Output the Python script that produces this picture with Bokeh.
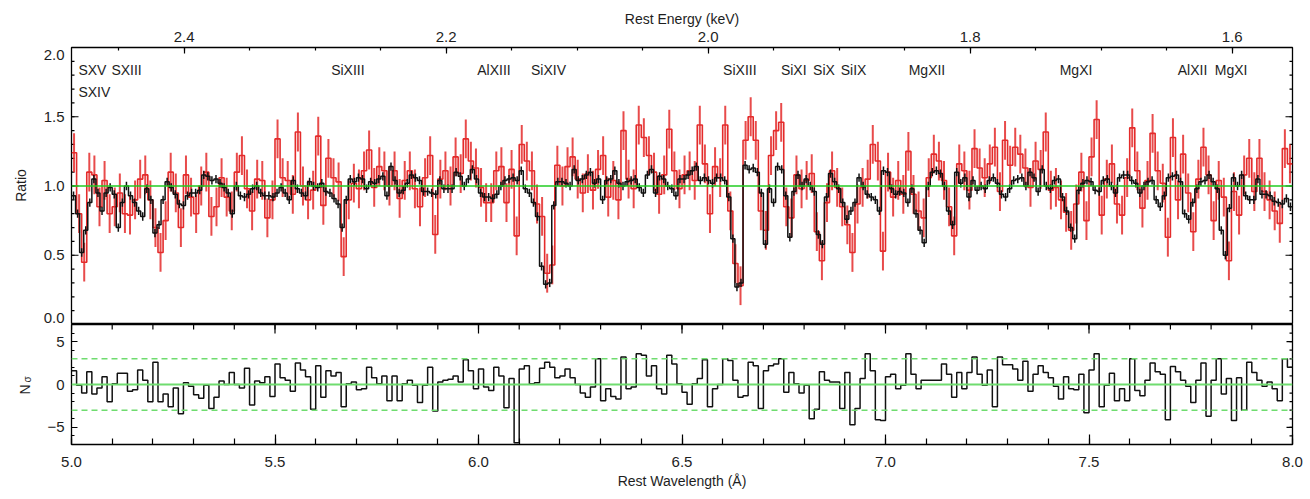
import math
import numpy as np
from bokeh.plotting import figure
from bokeh.models import (Range1d, LinearAxis, FixedTicker, PrintfTickFormatter,
                          CustomJSTickFormatter, Span)
from bokeh.layouts import column, row
from bokeh.embed import file_html
from bokeh.resources import INLINE
from bokeh.core.properties import value

FONT = "Liberation Sans"
TXT = "#1e1e1e"

# ---------------- data ----------------
WAVE_MIN, WAVE_MAX = 5.0, 8.0
ENERGY_LEFT, ENERGY_RIGHT = 2.486, 1.554   # top axis span in keV

# fine-binned ratio (black), 0.01 A bins starting at 5.0 A
black_width = 0.01
black_ratio = [
    0.93, 0.80, 0.52, 0.68, 0.88, 1.05, 0.95, 0.82, 0.95, 0.99,
    0.94, 0.70, 0.88, 1.00, 0.93, 0.88, 0.82, 0.78, 0.98, 0.90,
    0.66, 0.72, 0.90, 1.03, 0.99, 0.94, 0.87, 0.86, 0.93, 0.95,
    0.95, 0.97, 1.08, 1.07, 1.04, 1.05, 1.02, 0.99, 0.95, 0.80,
    1.00, 0.93, 0.92, 0.94, 0.98, 1.00, 0.95, 0.93, 0.93, 0.92,
    0.95, 0.99, 0.95, 0.90, 1.04, 0.98, 0.95, 0.93, 1.03, 1.00,
    0.99, 1.02, 0.96, 0.95, 0.91, 0.87, 0.70, 0.90, 1.05, 1.03,
    1.06, 1.05, 0.98, 1.03, 1.02, 1.05, 1.07, 0.93, 1.14, 1.04,
    0.95, 0.97, 1.02, 1.08, 1.06, 1.04, 0.96, 0.96, 0.95, 0.94,
    1.04, 0.98, 0.98, 0.98, 1.10, 1.07, 1.00, 1.05, 1.12, 1.05,
    0.95, 0.92, 0.92, 0.91, 0.94, 1.00, 1.04, 1.05, 1.06, 1.04,
    1.11, 0.98, 0.95, 0.88, 0.78, 0.42, 0.29, 0.30, 0.86, 1.03,
    1.03, 1.02, 1.00, 1.12, 1.04, 1.05, 1.08, 1.10, 1.02, 1.05,
    0.90, 1.04, 1.05, 1.11, 1.02, 1.00, 1.03, 1.04, 1.05, 0.99,
    0.95, 1.08, 1.12, 0.95, 1.07, 1.05, 1.00, 0.98, 0.93, 1.05,
    1.05, 1.08, 1.11, 1.14, 1.04, 1.06, 1.04, 1.02, 1.06, 1.06,
    1.04, 0.92, 0.62, 0.27, 0.30, 1.15, 1.12, 1.13, 1.10, 0.95,
    0.58, 0.98, 0.88, 1.14, 1.12, 0.93, 0.63, 0.96, 1.08, 1.00,
    1.05, 1.00, 0.96, 0.65, 0.58, 0.92, 1.09, 1.03, 0.98, 0.88,
    0.76, 0.82, 0.88, 1.06, 1.00, 0.94, 0.92, 0.90, 0.82, 1.11,
    1.10, 0.98, 0.94, 0.96, 0.95, 0.88, 0.98, 0.80, 0.68, 0.59,
    1.00, 1.10, 1.11, 1.09, 1.00, 0.82, 0.72, 1.10, 1.02, 1.06,
    0.92, 1.04, 0.97, 1.00, 0.98, 1.04, 1.06, 1.02, 0.94, 0.92,
    0.98, 1.04, 1.05, 1.06, 1.00, 1.10, 1.06, 0.96, 1.12, 1.00,
    0.98, 1.04, 1.05, 0.92, 0.82, 0.70, 0.62, 0.97, 1.02, 1.04,
    1.03, 0.97, 0.96, 1.04, 1.05, 1.00, 0.95, 1.06, 1.08, 1.08,
    1.04, 1.02, 0.95, 1.00, 1.03, 1.04, 0.90, 0.85, 0.93, 1.06,
    1.07, 1.08, 1.03, 0.80, 0.76, 0.88, 0.98, 1.03, 1.04, 1.08,
    1.03, 0.98, 0.68, 0.50, 0.84, 1.06, 1.00, 1.08, 0.93, 0.90,
    0.90, 1.05, 0.94, 0.94, 0.93, 0.89, 0.88, 0.87, 0.91, 0.85,
]
black_err = 0.03

# coarse-binned ratio (red), 0.0125 A bins starting at 5.0 A
red_width = 0.0125
red_ratio = [
    1.24, 0.80, 0.45, 1.10, 1.08, 0.85, 1.04, 0.80, 0.85, 0.95,
    0.80, 0.79, 0.90, 1.05, 1.08, 0.90, 0.70, 0.52, 0.75, 1.10,
    0.95, 0.70, 1.08, 0.92, 0.80, 1.00, 1.10, 0.78, 0.85, 1.06,
    0.92, 0.82, 1.10, 1.22, 0.98, 0.82, 1.05, 1.04, 0.77, 0.90,
    1.34, 1.06, 1.04, 0.94, 1.39, 1.00, 0.90, 0.97, 1.36, 0.86,
    1.20, 1.06, 1.03, 0.49, 0.90, 1.02, 0.98, 1.11, 1.26, 0.99,
    1.14, 1.11, 1.00, 1.11, 0.91, 1.04, 1.11, 0.98, 0.85, 1.06,
    1.22, 0.65, 1.05, 1.11, 1.00, 1.21, 1.09, 1.34, 1.18, 1.13,
    0.99, 0.88, 0.88, 1.11, 1.14, 0.88, 1.12, 0.64, 1.30, 1.18,
    1.11, 0.87, 0.78, 0.37, 0.43, 1.15, 1.00, 1.14, 1.21, 1.05,
    0.95, 1.09, 0.97, 1.12, 1.22, 0.92, 1.04, 0.90, 1.40, 1.05,
    0.98, 1.44, 1.35, 1.22, 1.10, 0.94, 1.08, 1.41, 1.11, 0.98,
    1.08, 1.11, 1.04, 1.44, 1.16, 0.80, 1.14, 1.06, 1.44, 0.82,
    0.44, 0.28, 1.33, 1.50, 1.33, 0.82, 0.68, 1.22, 1.40, 1.46,
    0.85, 0.77, 1.08, 0.98, 1.04, 1.09, 0.67, 0.46, 0.88, 1.11,
    0.99, 0.85, 0.72, 0.52, 0.87, 0.99, 1.05, 1.30, 1.18, 0.53,
    1.10, 0.92, 1.04, 0.94, 1.25, 0.94, 0.82, 0.77, 1.06, 1.23,
    1.18, 1.04, 0.85, 0.64, 1.16, 1.11, 0.97, 1.27, 1.13, 1.06,
    1.16, 1.28, 0.96, 1.33, 1.15, 1.28, 1.23, 1.13, 0.99, 1.18,
    1.12, 1.39, 0.97, 0.99, 0.90, 0.81, 0.68, 0.87, 1.10, 0.75,
    1.21, 1.48, 0.79, 1.05, 1.16, 0.87, 0.79, 1.06, 1.42, 1.11,
    0.84, 1.04, 1.38, 1.11, 1.02, 0.63, 1.35, 0.90, 1.23, 0.95,
    0.67, 1.05, 1.28, 1.08, 0.75, 1.04, 0.92, 0.46, 0.96, 0.79,
    1.08, 1.20, 0.96, 1.20, 0.96, 0.90, 0.82, 0.73, 1.27, 1.16,
]
red_err = 0.14

# residuals in units of sigma, 0.0125 A bins starting at 5.0 A
resid_width = 0.0125
resid_sigma = [
    1.6, -0.1, -1.0, 1.5, -1.1, -0.4, 0.9, -2.0, 0.1, 1.3,
    1.3, -0.8, -0.6, 1.7, 0.5, -2.0, 2.6, -2.0, -1.1, -2.6,
    -0.4, -3.4, 0.2, -0.2, -1.2, -1.6, -0.1, -2.8, -1.5, 0.4,
    0.0, 1.4, 0.0, -0.4, 1.9, -2.4, 0.4, 0.2, 0.9, -1.4,
    2.4, 0.8, 0.5, -0.8, 2.5, 1.7, 0.9, -2.9, 2.2, -1.5,
    1.6, 1.0, 1.4, -2.6, 0.1, 0.3, -0.6, -0.5, 2.0, 0.8,
    0.1, 1.0, -1.9, 1.0, -1.9, 0.1, 0.5, -0.1, -2.1, -0.1,
    2.0, -3.1, 0.3, 0.5, 0.6, 1.0, 0.3, 2.9, 1.6, -0.5,
    1.8, -0.3, -0.7, 2.0, 1.0, -2.7, 0.7, -6.8, 1.8, 2.2,
    0.1, 0.2, 1.9, 2.6, 2.0, 0.8, 1.0, 1.8, 0.8, 0.0,
    -1.0, -1.5, -0.3, 3.0, -1.9, -0.5, -1.4, -1.7, 3.2, -0.5,
    -0.3, 3.6, 3.4, 1.0, 2.2, -0.5, -1.1, 3.4, 2.4, 0.1,
    -0.9, -2.3, 0.1, 0.7, 2.9, -2.6, -0.5, 0.0, 3.0, 2.8,
    0.5, -1.5, -1.3, 2.6, 2.2, -2.8, 1.6, 2.2, 2.4, 3.0,
    -0.9, 1.4, 0.1, -1.0, -0.1, -4.0, -2.9, 1.5, 0.5, 0.3,
    0.3, -2.8, 1.4, -4.7, -2.8, 0.7, 3.6, 1.6, -4.1, -4.2,
    0.9, 1.2, -0.5, -0.1, 3.6, 1.2, -0.5, 0.5, 0.5, 0.5,
    0.5, 2.4, 1.2, -1.5, 1.4, -0.5, 1.4, 3.2, 1.2, -0.1,
    1.7, -2.6, 3.2, 2.3, 2.3, 1.8, 0.5, 2.7, -0.8, 1.2,
    2.2, 1.4, 0.8, -0.2, -1.7, 0.9, -0.5, -0.6, 1.2, -3.3,
    1.7, 3.6, -2.6, -0.1, 1.3, -1.9, -0.5, -1.9, 3.0, -0.7,
    -1.3, 0.5, 2.5, 1.5, 1.2, -4.1, 2.1, 1.5, 0.5, -0.2,
    -2.1, 0.5, 2.5, -3.7, 0.5, 3.0, -1.1, 0.7, -4.2, 0.8,
    -3.0, 2.6, 1.4, 0.5, -0.2, 0.3, -0.5, -1.9, 3.0, 2.0,
]

# absorption-line identifications (rest wavelength, label, text row)
line_names = ["SXV", "SXIII", "SXIV", "SiXIII", "AlXIII", "SiXIV", "SiXIII",
              "SiXI", "SiX", "SiIX", "MgXII", "MgXI", "AlXII", "MgXI"]
line_waves = [5.017, 5.098, 5.017, 5.638, 5.997, 6.129, 6.601,
              6.743, 6.822, 6.890, 7.057, 7.428, 7.718, 7.809]
line_rows = [0, 0, 1, 0, 0, 0, 0, 0, 0, 0, 0, 0, 0, 0]
ROW_Y = [1.834, 1.682]

wave_major = [5.0, 5.5, 6.0, 6.5, 7.0, 7.5, 8.0]
wave_minor = [round(5.0 + 0.1 * k, 1) for k in range(31)]
energy_major = [2.4, 2.2, 2.0, 1.8, 1.6]
energy_minor = [round(2.45 - 0.05 * k, 2) for k in range(18)]
ratio_major = [0.0, 0.5, 1.0, 1.5, 2.0]
ratio_minor = [round(0.1 * k, 1) for k in range(21)]
sig_major = [-5, 0, 5]
sig_minor = list(range(-7, 8))
SIG_LIMIT = 3

# page geometry (pixels)
PAGE_W, PAGE_H = 1310, 499
STRIP_W = 40          # left strip holding the rotated axis titles
TOP_H, BOT_H = 324, 175
TOP_FRAME_H = 277
END_LABEL_INSET = 7   # the 0.0 / 2.0 labels sit this far inside the frame


# ---------------- helpers ----------------
def step_edges(start, width, vals):
    edges = start + width * np.arange(len(vals) + 1)
    ys = list(vals) + [vals[-1]]
    centers = start + width * (np.arange(len(vals)) + 0.5)
    return edges, ys, centers


def make_axis(major, minor, fmt, tick_in, minor_in, title="", x_range_name=None,
              standoff=6, title_standoff=4):
    kw = dict(
        ticker=FixedTicker(ticks=major, minor_ticks=minor),
        formatter=fmt,
        major_tick_in=tick_in, major_tick_out=0,
        minor_tick_in=minor_in, minor_tick_out=0,
        major_tick_line_color="black" if tick_in else None,
        minor_tick_line_color="black" if minor_in else None,
        major_tick_line_width=1.2, minor_tick_line_width=1.2,
        axis_line_color=None,
        major_label_text_font=FONT,
        major_label_text_font_size="15px",
        major_label_text_color=TXT,
        major_label_standoff=standoff,
        axis_label=title if title else None,
        axis_label_text_font=FONT,
        axis_label_text_font_size="14px",
        axis_label_text_font_style="normal",
        axis_label_text_color=TXT,
        axis_label_standoff=title_standoff,
    )
    if x_range_name:
        kw["x_range_name"] = x_range_name
    return LinearAxis(**kw)


def inner_ticks(p, xs, ys, length, angle):
    """Tick marks drawn inward from a frame edge."""
    p.ray(x=xs, y=ys, length=length, length_units="screen", angle=angle,
          line_color="black", line_width=1.2)


minus_fmt = CustomJSTickFormatter(code="return tick < 0 ? '\\u2212' + Math.abs(tick) : '' + tick;")
one_dec = PrintfTickFormatter(format="%.1f")
# ratio labels are placed at slightly nudged positions; print the nearest half-unit
half_fmt = CustomJSTickFormatter(code="return (Math.round(tick * 2) / 2).toFixed(1);")

x_range = Range1d(WAVE_MIN, WAVE_MAX)
common = dict(output_backend="svg", toolbar_location=None,
              x_axis_location=None, y_axis_location=None,
              background_fill_color="white", border_fill_color="white")

# ---------------- upper panel: data/model ratio ----------------
top = figure(width=PAGE_W - STRIP_W, height=TOP_H, x_range=x_range, y_range=Range1d(0, 2),
             min_border_left=30, min_border_right=18, min_border_top=47, min_border_bottom=0,
             outline_line_color="black", outline_line_width=1.3, **common)
top.extra_x_ranges = {"energy": Range1d(ENERGY_LEFT, ENERGY_RIGHT)}
top.xgrid.visible = False
top.ygrid.visible = False

inset = END_LABEL_INSET * 2.0 / TOP_FRAME_H
ratio_label_pos = [ratio_major[0] + inset] + ratio_major[1:-1] + [ratio_major[-1] - inset]
top.add_layout(make_axis(ratio_label_pos, [], half_fmt, 0, 0, standoff=7), "left")
top.add_layout(make_axis(energy_major, energy_minor, one_dec, 6, 3, "Rest Energy (keV)",
                         x_range_name="energy", standoff=6, title_standoff=2), "above")
for edge, ang in ((WAVE_MIN, 0.0), (WAVE_MAX, math.pi)):
    inner_ticks(top, [edge] * len(ratio_major), ratio_major, 7, ang)
    inner_ticks(top, [edge] * len(ratio_minor), ratio_minor, 3, ang)

red_x, red_y, red_c = step_edges(WAVE_MIN, red_width, red_ratio)
blk_x, blk_y, blk_c = step_edges(WAVE_MIN, black_width, black_ratio)
red_arr = np.array(red_ratio)
blk_arr = np.array(black_ratio)

RED = "#e42b2b"
top.segment(x0=red_c, y0=red_arr - red_err, x1=red_c, y1=red_arr + red_err,
            line_color=RED, line_width=2, line_alpha=0.85)
top.step(x=red_x, y=red_y, mode="after", line_color=RED, line_width=1.6)
top.segment(x0=blk_c, y0=blk_arr - black_err, x1=blk_c, y1=blk_arr + black_err,
            line_color="#111111", line_width=1.5)
top.step(x=blk_x, y=blk_y, mode="after", line_color="#111111", line_width=1.5)
top.add_layout(Span(location=1.0, dimension="width", line_color="#22cc22", line_width=1.4))

top.text(x=line_waves, y=[ROW_Y[r] for r in line_rows], text=line_names,
         text_font=value(FONT), text_font_size="14px", text_color=TXT,
         text_align="left", text_baseline="middle")

# ---------------- lower panel: residuals ----------------
bot = figure(width=PAGE_W - STRIP_W, height=BOT_H, x_range=x_range, y_range=Range1d(-7, 7),
             min_border_left=30, min_border_right=18, min_border_top=0, min_border_bottom=55,
             outline_line_color="black", outline_line_width=1.3, **common)
bot.xgrid.visible = False
bot.ygrid.visible = False

bot.add_layout(make_axis(sig_major, sig_minor, minus_fmt, 6, 3, standoff=7), "left")
bot.add_layout(make_axis(wave_major, wave_minor, one_dec, 10, 6, "Rest Wavelength (\u00c5)",
                         standoff=12, title_standoff=3), "below")
inner_ticks(bot, [WAVE_MAX] * len(sig_major), sig_major, 6, math.pi)
inner_ticks(bot, [WAVE_MAX] * len(sig_minor), sig_minor, 3, math.pi)
inner_ticks(bot, wave_major, [7] * len(wave_major), 9, -math.pi / 2)
inner_ticks(bot, wave_minor, [7] * len(wave_minor), 5, -math.pi / 2)

res_x, res_y, _ = step_edges(WAVE_MIN, resid_width, resid_sigma)
GREEN_LIGHT = "#6fdc6f"
bot.add_layout(Span(location=0, dimension="width", line_color=GREEN_LIGHT, line_width=2.2))
for lim in (SIG_LIMIT, -SIG_LIMIT):
    bot.add_layout(Span(location=lim, dimension="width", line_color=GREEN_LIGHT,
                        line_width=1.6, line_dash="6 4"))
bot.step(x=res_x, y=res_y, mode="after", line_color="#111111", line_width=1.5)

# ---------------- left strip: rotated axis titles ----------------
# coordinates here are pixels from the strip's left edge and the page bottom
strip = figure(width=STRIP_W, height=PAGE_H, x_range=Range1d(0, STRIP_W),
               y_range=Range1d(0, PAGE_H), min_border=0, outline_line_color=None, **common)
strip.xgrid.visible = False
strip.ygrid.visible = False
title_x = [20, 24, 27]
title_y = [PAGE_H - 185, PAGE_H - 389, PAGE_H - 379]
title_txt = ["Ratio", "N", "\u03c3"]
title_size = ["14px", "14px", "10px"]
strip.text(x=title_x, y=title_y, text=title_txt, text_font_size=title_size,
           angle=math.pi / 2, text_font=value(FONT), text_color=TXT,
           text_align="center", text_baseline="middle")

layout = row(strip, column(top, bot, spacing=0), spacing=0)
open("out.html", "w").write(file_html(layout, INLINE))
